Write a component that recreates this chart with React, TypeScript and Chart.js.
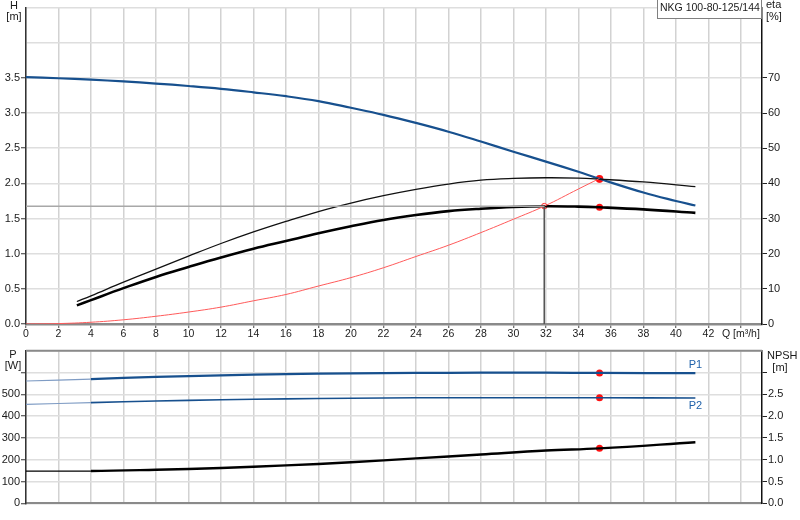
import React, { useEffect, useRef } from "react";
import { Chart, registerables } from "chart.js";

Chart.register(...registerables);

// ---------- data ----------
const Q_TICKS = [0, 2, 4, 6, 8, 10, 12, 14, 16, 18, 20, 22, 24, 26, 28, 30, 32, 34, 36, 38, 40, 42, 44];

const H_Q = [0, 2, 4, 6, 8, 10, 12, 14, 16, 18, 20, 22, 24, 26, 28, 30, 32, 34, 35.3, 38, 40, 41.2];
const H_VAL = [3.51, 3.495, 3.475, 3.45, 3.42, 3.385, 3.345, 3.295, 3.24, 3.17, 3.075, 2.975, 2.86, 2.735, 2.595, 2.45, 2.31, 2.165, 2.065, 1.87, 1.75, 1.685];

const ETA_Q = [3.13, 4, 6, 8, 10, 12, 14, 16, 18, 20, 22, 24, 26, 28, 30, 32, 34, 35.3, 38, 41.2];
const ETA_PUMP = [6.4, 8.0, 11.9, 15.6, 19.3, 22.9, 26.2, 29.2, 32.0, 34.4, 36.5, 38.3, 39.8, 40.9, 41.4, 41.6, 41.5, 41.2, 40.4, 39.1];
const ETA_TOTAL = [5.3, 6.8, 10.2, 13.4, 16.2, 18.9, 21.4, 23.6, 25.8, 27.8, 29.6, 31.0, 32.1, 32.8, 33.3, 33.5, 33.4, 33.2, 32.6, 31.6];

const SYS_Q = [0, 2, 4, 6, 8, 10, 12, 14, 16, 18, 20, 22, 24, 26, 28, 30, 31.9, 34, 35.3];
const SYS_H = [0, 0.006, 0.025, 0.06, 0.11, 0.17, 0.24, 0.33, 0.42, 0.54, 0.66, 0.8, 0.96, 1.12, 1.3, 1.49, 1.676, 1.92, 2.07];

const DUTY_Q = 35.3;
const DUTY_H = 2.065;
const DUTY_ETA_PUMP = 41.2;
const DUTY_ETA_TOTAL = 33.2;
const OP_Q = 31.9;
const OP_H = 1.676;

const P_Q = [0, 4, 8, 12, 16, 20, 24, 28, 32, 35.3, 41.2];
const P1_VAL = [561, 570, 580, 587, 593, 596, 598, 599, 599, 598, 597];
const P2_VAL = [454, 462, 469, 475, 479, 482, 484, 484, 484, 484, 483];
const NPSH_VAL = [0.74, 0.74, 0.77, 0.81, 0.87, 0.94, 1.03, 1.12, 1.21, 1.26, 1.4];
const DUTY_P1 = 598;
const DUTY_P2 = 484;
const DUTY_NPSH = 1.26;

const TITLE = "NKG 100-80-125/144";

// ---------- styles ----------
const FONT = '"Liberation Sans", Arial, sans-serif';
const BLUE = "#17508e";
const LIGHT_BLUE = "#7f9cc4";
const GRID_H = "#dedede";
const GRID_V = "#d2d2d2";
const TEXT = "#1a1a1a";

const xy = (xs: number[], ys: number[]) => xs.map((x, i) => ({ x, y: ys[i] }));

const setQTicks = (s: any) => {
  s.ticks = Q_TICKS.map((v) => ({ value: v }));
};

function App() {
  const topRef = useRef<HTMLCanvasElement | null>(null);
  const botRef = useRef<HTMLCanvasElement | null>(null);

  useEffect(() => {
    Chart.defaults.font.family = FONT;
    Chart.defaults.font.size = 11;
    Chart.defaults.color = TEXT;

    const topTitles = {
      id: "topTitles",
      afterDraw(chart: any) {
        const c = chart.ctx;
        c.save();
        c.fillStyle = TEXT;
        c.font = `11px ${FONT}`;
        c.textBaseline = "middle";
        c.textAlign = "center";
        c.fillText("H", 14, 6);
        c.fillText("[m]", 14, 17);
        c.textAlign = "left";
        c.fillText("eta", 766, 5);
        c.fillText("[%]", 766, 17);
        c.fillStyle = "#fff";
        c.fillRect(657, 0, 105, 19);
        c.strokeStyle = "#808080";
        c.lineWidth = 1;
        c.strokeRect(657.5, -1, 104, 19.5);
        c.fillStyle = TEXT;
        c.font = `10.5px ${FONT}`;
        c.fillText(TITLE, 660, 8);
        c.restore();
      },
    };

    const top = new Chart(topRef.current as HTMLCanvasElement, {
      type: "line",
      data: {
        datasets: [
          {
            data: [
              { x: 0, y: OP_H },
              { x: OP_Q, y: OP_H },
            ],
            borderColor: "#a8a8a8",
            borderWidth: 1.5,
            yAxisID: "y",
            pointRadius: 0,
          },
          {
            data: [
              { x: OP_Q, y: OP_H },
              { x: OP_Q, y: 0 },
            ],
            borderColor: "#555",
            borderWidth: 1,
            yAxisID: "y",
            pointRadius: 0,
          },
          {
            data: xy(SYS_Q, SYS_H),
            borderColor: "#ff5a5a",
            borderWidth: 1,
            yAxisID: "y",
            tension: 0.4,
            pointRadius: 0,
          },
          {
            data: xy(ETA_Q, ETA_PUMP),
            borderColor: "#111",
            borderWidth: 1.3,
            yAxisID: "y2",
            tension: 0.4,
            pointRadius: 0,
          },
          {
            data: xy(ETA_Q, ETA_TOTAL),
            borderColor: "#000",
            borderWidth: 2.6,
            yAxisID: "y2",
            tension: 0.4,
            pointRadius: 0,
          },
          {
            data: xy(H_Q, H_VAL),
            borderColor: BLUE,
            borderWidth: 2.2,
            yAxisID: "y",
            tension: 0.4,
            pointRadius: 0,
          },
          {
            data: [{ x: OP_Q, y: OP_H }],
            showLine: false,
            yAxisID: "y",
            pointRadius: 2.8,
            pointBackgroundColor: "#ffe0e0",
            pointBorderColor: "#ff3030",
            pointBorderWidth: 1,
          },
          {
            data: [{ x: DUTY_Q, y: DUTY_H }],
            showLine: false,
            yAxisID: "y",
            pointRadius: 3.8,
            pointBackgroundColor: "#ff1010",
            pointBorderColor: "#ff1010",
            pointBorderWidth: 0,
          },
          {
            data: [
              { x: DUTY_Q, y: DUTY_ETA_PUMP },
              { x: DUTY_Q, y: DUTY_ETA_TOTAL },
            ],
            showLine: false,
            yAxisID: "y2",
            pointRadius: 3.5,
            pointBackgroundColor: "#ff1010",
            pointBorderColor: "#ff1010",
            pointBorderWidth: 0,
          },
        ],
      },
      options: {
        animation: false,
        responsive: false,
        maintainAspectRatio: false,
        devicePixelRatio: 1,
        layout: { padding: 0 },
        plugins: { legend: { display: false }, tooltip: { enabled: false } },
        scales: {
          x: {
            type: "linear",
            min: 0,
            max: 45.3,
            afterBuildTicks: setQTicks,
            afterFit: (s: any) => {
              s.height = 21;
            },
            ticks: {
              autoSkip: false,
              maxRotation: 0,
              padding: 0,
              font: { size: 10.5 },
              callback: (v: any) => (v === 44 ? "Q [m³/h]" : String(v)),
            },
            grid: { color: GRID_V, lineWidth: 1.5, tickLength: 4, tickColor: "#444", tickWidth: 1 },
            border: { color: "#8a8a8a", width: 2.5 },
          },
          y: {
            type: "linear",
            position: "left",
            min: 0,
            max: 4.5,
            afterFit: (s: any) => {
              s.width = 26;
            },
            ticks: {
              stepSize: 0.5,
              padding: 1,
              callback: (v: any) => (v <= 3.5 ? Number(v).toFixed(1) : ""),
            },
            grid: {
              color: GRID_H,
              lineWidth: 1.5,
              tickLength: 5,
              tickWidth: 1,
              tickColor: (ctx: any) => (ctx.tick && ctx.tick.value > 3.5 ? "rgba(0,0,0,0)" : "#333"),
            },
            border: { color: "#333", width: 1.5 },
          },
          y2: {
            type: "linear",
            position: "right",
            min: 0,
            max: 90,
            afterFit: (s: any) => {
              s.width = 38;
            },
            ticks: {
              stepSize: 10,
              padding: 1,
              callback: (v: any) => (v <= 70 ? String(v) : ""),
            },
            grid: {
              drawOnChartArea: false,
              tickLength: 5,
              tickWidth: 1,
              tickColor: (ctx: any) => (ctx.tick && ctx.tick.value > 70 ? "rgba(0,0,0,0)" : "#222"),
            },
            border: { color: "#111", width: 1.5 },
          },
        },
      },
      plugins: [topTitles],
    } as any);

    const botPlugin = {
      id: "botTitles",
      afterDraw(chart: any) {
        const c = chart.ctx;
        const a = chart.chartArea;
        const xs = chart.scales.x;
        const ys = chart.scales.y;
        c.save();
        c.strokeStyle = "#8a8a8a";
        c.lineWidth = 2;
        c.beginPath();
        c.moveTo(a.left, a.top);
        c.lineTo(a.right, a.top);
        c.stroke();
        c.fillStyle = TEXT;
        c.font = `11px ${FONT}`;
        c.textBaseline = "middle";
        c.textAlign = "center";
        c.fillText("P", 13, 15);
        c.fillText("[W]", 13, 26);
        c.textAlign = "left";
        c.fillText("NPSH", 767, 16);
        c.textAlign = "center";
        c.fillText("[m]", 780, 28);
        const lx = xs.getPixelForValue(P_Q[P_Q.length - 1]);
        c.fillStyle = "#2062aa";
        c.fillText("P1", lx, ys.getPixelForValue(P1_VAL[P1_VAL.length - 1]) - 8);
        c.fillText("P2", lx, ys.getPixelForValue(P2_VAL[P2_VAL.length - 1]) + 8);
        c.restore();
      },
    };

    const thinStart = (thin: number, thick: number) => (ctx: any) => (ctx.p0.parsed.x < 4 ? thin : thick);
    const colStart = (light: string, dark: string) => (ctx: any) => (ctx.p0.parsed.x < 4 ? light : dark);

    const bot = new Chart(botRef.current as HTMLCanvasElement, {
      type: "line",
      data: {
        datasets: [
          {
            data: xy(P_Q, P1_VAL),
            borderColor: BLUE,
            borderWidth: 2.2,
            yAxisID: "y",
            tension: 0.4,
            pointRadius: 0,
            segment: { borderWidth: thinStart(1.2, 2.2), borderColor: colStart(LIGHT_BLUE, BLUE) },
          },
          {
            data: xy(P_Q, P2_VAL),
            borderColor: BLUE,
            borderWidth: 1.6,
            yAxisID: "y",
            tension: 0.4,
            pointRadius: 0,
            segment: { borderWidth: thinStart(1.1, 1.6), borderColor: colStart(LIGHT_BLUE, BLUE) },
          },
          {
            data: xy(P_Q, NPSH_VAL),
            borderColor: "#000",
            borderWidth: 2.4,
            yAxisID: "y2",
            tension: 0.4,
            pointRadius: 0,
            segment: { borderWidth: thinStart(1.2, 2.4) },
          },
          {
            data: [
              { x: DUTY_Q, y: DUTY_P1 },
              { x: DUTY_Q, y: DUTY_P2 },
            ],
            showLine: false,
            yAxisID: "y",
            pointRadius: 3.5,
            pointBackgroundColor: "#ff1010",
            pointBorderWidth: 0,
          },
          {
            data: [{ x: DUTY_Q, y: DUTY_NPSH }],
            showLine: false,
            yAxisID: "y2",
            pointRadius: 3.5,
            pointBackgroundColor: "#ff1010",
            pointBorderWidth: 0,
          },
        ],
      },
      options: {
        animation: false,
        responsive: false,
        maintainAspectRatio: false,
        devicePixelRatio: 1,
        layout: { padding: { top: 10.7, left: 0, right: 0, bottom: 0 } },
        plugins: { legend: { display: false }, tooltip: { enabled: false } },
        scales: {
          x: {
            type: "linear",
            min: 0,
            max: 45.3,
            afterBuildTicks: setQTicks,
            afterFit: (s: any) => {
              s.height = 16.7;
            },
            ticks: { display: false },
            grid: { color: GRID_V, lineWidth: 1.5, drawTicks: false },
            border: { color: "#8a8a8a", width: 2 },
          },
          y: {
            type: "linear",
            position: "left",
            min: 0,
            max: 700,
            afterFit: (s: any) => {
              s.width = 26;
            },
            ticks: {
              stepSize: 100,
              padding: 1,
              callback: (v: any) => (v <= 500 ? String(v) : ""),
            },
            grid: {
              color: GRID_H,
              lineWidth: 1.5,
              tickLength: 5,
              tickWidth: 1,
              tickColor: (ctx: any) => (ctx.tick && ctx.tick.value > 600 ? "rgba(0,0,0,0)" : "#333"),
            },
            border: { color: "#333", width: 1.5 },
          },
          y2: {
            type: "linear",
            position: "right",
            min: 0,
            max: 3.5,
            afterFit: (s: any) => {
              s.width = 38;
            },
            ticks: {
              stepSize: 0.5,
              padding: 1,
              callback: (v: any) => (v <= 2.5 ? Number(v).toFixed(1) : ""),
            },
            grid: {
              drawOnChartArea: false,
              tickLength: 5,
              tickWidth: 1,
              tickColor: (ctx: any) => (ctx.tick && ctx.tick.value > 3.0 ? "rgba(0,0,0,0)" : "#222"),
            },
            border: { color: "#111", width: 1.5 },
          },
        },
      },
      plugins: [botPlugin],
    } as any);

    return () => {
      top.destroy();
      bot.destroy();
    };
  }, []);

  return (
    <div style={{ position: "fixed", left: 0, top: 0, width: 800, height: 520, background: "#fff" }}>
      <canvas ref={topRef} width={800} height={345} style={{ position: "absolute", left: 0, top: 0, width: 800, height: 345 }} />
      <canvas ref={botRef} width={800} height={180} style={{ position: "absolute", left: 0, top: 340, width: 800, height: 180 }} />
    </div>
  );
}

export default App;
